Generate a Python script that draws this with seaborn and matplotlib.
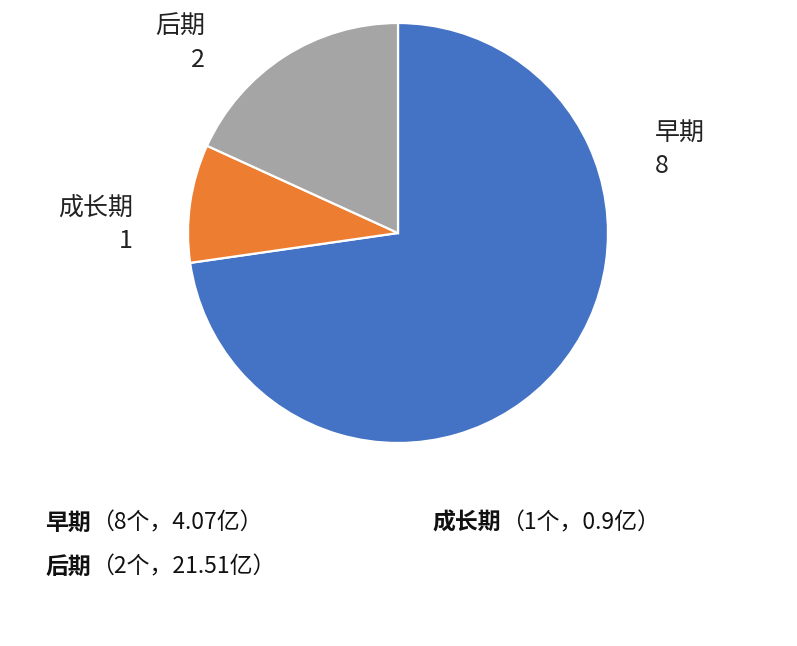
import matplotlib
matplotlib.use("Agg")
import matplotlib.pyplot as plt
import seaborn as sns

categories = ["早期", "成长期", "后期"]
counts = [8, 1, 2]
amounts = ["4.07", "0.9", "21.51"]
colors = ["#4472C4", "#ED7D31", "#A5A5A5"]

sns.set_theme(style="white")
plt.rcParams['font.family'] = ['Noto Sans CJK SC', 'DejaVu Sans']

W, H = 797, 646
fig = plt.figure(figsize=(W / 100, H / 100), dpi=100)
fig.patch.set_facecolor("white")

cx, cy, r = 398, 233, 210
ax = fig.add_axes([(cx - r) / W, (H - cy - r) / H, 2 * r / W, 2 * r / H])
ax.pie(counts, colors=colors, startangle=90, counterclock=False,
       radius=1, wedgeprops=dict(edgecolor="white", linewidth=1.6))
ax.set_xlim(-1, 1)
ax.set_ylim(-1, 1)
ax.set_aspect("equal")
ax.axis("off")

# data labels (pixel positions from top-left)
label_pos = {
    "早期": (655, 133, "left"),
    "成长期": (133, 208, "right"),
    "后期": (205, 27, "right"),
}
for cat, n in zip(categories, counts):
    x, y, ha = label_pos[cat]
    fig.text(x / W, 1 - y / H, cat, ha=ha, va="center", fontsize=18, color="#222222")
    fig.text(x / W, 1 - (y + 33) / H, str(n), ha=ha, va="center", fontsize=18, color="#222222")

# bottom legend-like annotations
renderer = fig.canvas.get_renderer()
legend_pos = [(45, 523), (432, 523), (45, 567)]
for (x, y), cat, n, amt in zip(legend_pos, categories, counts, amounts):
    t = fig.text(x / W, 1 - y / H, cat, ha="left", va="center", fontsize=16.5,
                 fontweight="bold", color="#111111")
    bb = t.get_window_extent(renderer=renderer)
    fig.text(bb.x1 / W, 1 - y / H, f"（{n}个，{amt}亿）", ha="left", va="center",
             fontsize=16.5, color="#111111")

fig.savefig("out.png", dpi=100, facecolor="white")
